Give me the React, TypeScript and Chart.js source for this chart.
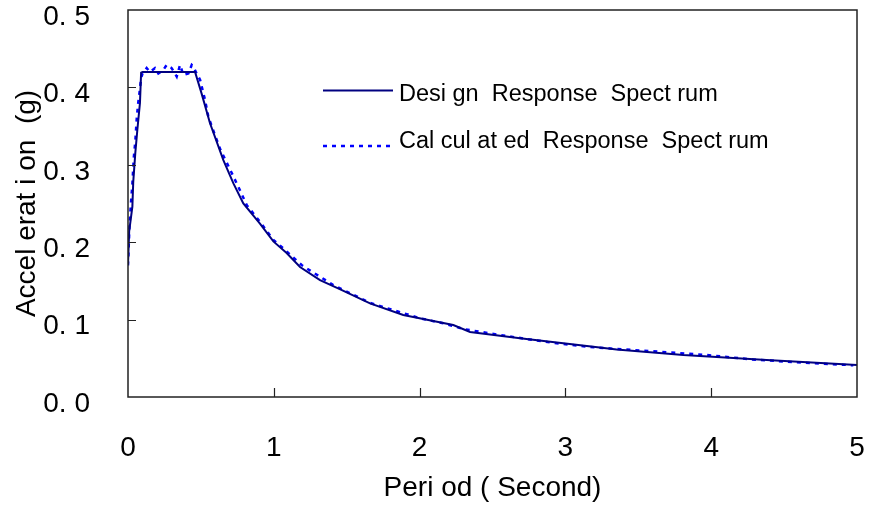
import React, { useEffect, useRef } from "react";
import { Chart, registerables } from "chart.js";

Chart.register(...registerables);

// ---- data ----
const designPeriod = [0, 0.008, 0.03, 0.036, 0.05, 0.064, 0.082, 0.09, 0.1, 0.46, 0.505, 0.562, 0.654, 0.723, 0.791, 0.905, 0.997, 1.088, 1.18, 1.317, 1.456, 1.66, 1.888, 2.231, 2.346, 2.689, 3.03, 3.352, 3.809, 4.38, 5.0];
const designAccel = [0.171, 0.214, 0.246, 0.278, 0.315, 0.345, 0.38, 0.419, 0.42, 0.42, 0.392, 0.354, 0.306, 0.276, 0.25, 0.224, 0.201, 0.186, 0.168, 0.151, 0.139, 0.121, 0.106, 0.093, 0.084, 0.0758, 0.0685, 0.0615, 0.0543, 0.0478, 0.0413];

const calcPeriod = [0, 0.01, 0.02, 0.03, 0.04, 0.05, 0.06, 0.07, 0.08, 0.09, 0.1, 0.128, 0.151, 0.185, 0.208, 0.24, 0.265, 0.299, 0.334, 0.357, 0.38, 0.414, 0.437, 0.448, 0.47, 0.494, 0.528, 0.551, 0.597, 0.635, 0.723, 0.768, 0.814, 0.894, 0.997, 1.077, 1.191, 1.26, 1.408, 1.66, 2.003, 2.163, 2.311, 2.597, 2.906, 3.146, 3.352, 3.58, 3.969, 4.266, 4.586, 4.975];
const calcAccel = [0.17, 0.22, 0.25, 0.275, 0.31, 0.33, 0.36, 0.38, 0.395, 0.412, 0.418, 0.425, 0.42, 0.425, 0.418, 0.422, 0.429, 0.425, 0.414, 0.429, 0.416, 0.418, 0.429, 0.427, 0.418, 0.41, 0.384, 0.362, 0.338, 0.319, 0.285, 0.267, 0.248, 0.229, 0.203, 0.19, 0.1705, 0.162, 0.1447, 0.1215, 0.1017, 0.0952, 0.0874, 0.0788, 0.0702, 0.065, 0.062, 0.0594, 0.0543, 0.0487, 0.0448, 0.041];

const xTickLabels = ["0", "1", "2", "3", "4", "5"];
const yTickLabels = ["0. 0", "0. 1", "0. 2", "0. 3", "0. 4", "0. 5"];

const seriesNames = ["Desi gn  Response  Spect rum", "Cal cul at ed  Response  Spect rum"];
const xTitle = "Peri od ( Second)";
const yTitle = "Accel erat i on  (g)";

const FONT = "'Liberation Sans', Arial, sans-serif";

const framePlugin = {
  id: "frame",
  afterDraw(chart: any) {
    const { ctx, chartArea } = chart;
    const { left, right, top, bottom } = chartArea;
    const xs = chart.scales.x;
    const ys = chart.scales.y;
    ctx.save();
    ctx.strokeStyle = "#222";
    ctx.lineWidth = 1.5;
    ctx.strokeRect(left, top, right - left, bottom - top);
    ctx.lineWidth = 1.2;
    ctx.beginPath();
    ys.ticks.forEach((t: any, i: number) => {
      if (i === 0 || i === ys.ticks.length - 1) return;
      const y = Math.round(ys.getPixelForValue(t.value)) + 0.5;
      ctx.moveTo(left, y);
      ctx.lineTo(left + 8, y);
    });
    xs.ticks.forEach((t: any, i: number) => {
      if (i === 0 || i === xs.ticks.length - 1) return;
      const x = Math.round(xs.getPixelForValue(t.value)) + 0.5;
      ctx.moveTo(x, bottom);
      ctx.lineTo(x, bottom - 9);
    });
    ctx.stroke();

    // legend
    const items = [
      { lx: 323, ly: 90.5, tx: 399, ty: 95 },
      { lx: 323, ly: 146, tx: 399, ty: 142 },
    ];
    chart.data.datasets.forEach((ds: any, i: number) => {
      const p = items[i];
      ctx.strokeStyle = ds.borderColor;
      ctx.lineWidth = ds.borderWidth;
      ctx.setLineDash(ds.borderDash || []);
      ctx.beginPath();
      ctx.moveTo(p.lx, p.ly);
      ctx.lineTo(p.lx + 70, p.ly);
      ctx.stroke();
      ctx.setLineDash([]);
      ctx.fillStyle = "#000";
      ctx.font = `23.5px ${FONT}`;
      ctx.textBaseline = "middle";
      ctx.textAlign = "left";
      ctx.fillText(ds.label, p.tx, p.ty);
    });
    ctx.restore();
  },
};

export default function App() {
  const ref = useRef<HTMLCanvasElement>(null);
  useEffect(() => {
    if (!ref.current) return;
    const chart = new Chart(ref.current, {
      type: "scatter",
      data: {
        datasets: [
          {
            label: seriesNames[0],
            data: designPeriod.map((t, i) => ({ x: t, y: designAccel[i] })),
            showLine: true,
            borderColor: "#000080",
            borderWidth: 2,
            pointRadius: 0,
            tension: 0,
          },
          {
            label: seriesNames[1],
            data: calcPeriod.map((t, i) => ({ x: t, y: calcAccel[i] })),
            showLine: true,
            borderColor: "#0000ff",
            borderWidth: 2.5,
            borderDash: [4, 5],
            pointRadius: 0,
            tension: 0,
          },
        ],
      },
      options: {
        animation: false,
        responsive: false,
        layout: { padding: { top: 10, right: 13, left: 0, bottom: 0 } },
        plugins: { legend: { display: false }, tooltip: { enabled: false } },
        scales: {
          x: {
            type: "linear",
            min: 0,
            max: 5,
            grid: { display: false, drawTicks: false },
            border: { display: false },
            ticks: {
              stepSize: 1,
              padding: 34,
              color: "#000",
              font: { family: FONT, size: 28 },
              callback: (_v: any, i: number) => xTickLabels[i],
            },
            title: {
              display: true,
              text: xTitle,
              color: "#000",
              font: { family: FONT, size: 28 },
              padding: { top: 0, bottom: 1 },
            },
            afterFit: (s: any) => {
              s.height = 506 - 397;
              s.paddingLeft = 0;
              s.paddingRight = 0;
            },
          },
          y: {
            min: 0,
            max: 0.5,
            grid: { display: false, drawTicks: false },
            border: { display: false },
            ticks: {
              stepSize: 0.1,
              padding: 38,
              labelOffset: 7,
              color: "#000",
              font: { family: FONT, size: 28 },
              callback: (_v: any, i: number) => yTickLabels[i],
            },
            title: {
              display: true,
              text: yTitle,
              color: "#000",
              font: { family: FONT, size: 28 },
              padding: { top: 10, bottom: 0 },
            },
            afterFit: (s: any) => {
              s.width = 128;
              s.paddingTop = 0;
              s.paddingBottom = 0;
            },
          },
        },
      },
      plugins: [framePlugin],
    });
    return () => chart.destroy();
  }, []);
  return (
    <div style={{ position: "absolute", left: 0, top: 0, width: 870, height: 506 }}>
      <canvas ref={ref} width={870} height={506} style={{ display: "block" }} />
    </div>
  );
}
